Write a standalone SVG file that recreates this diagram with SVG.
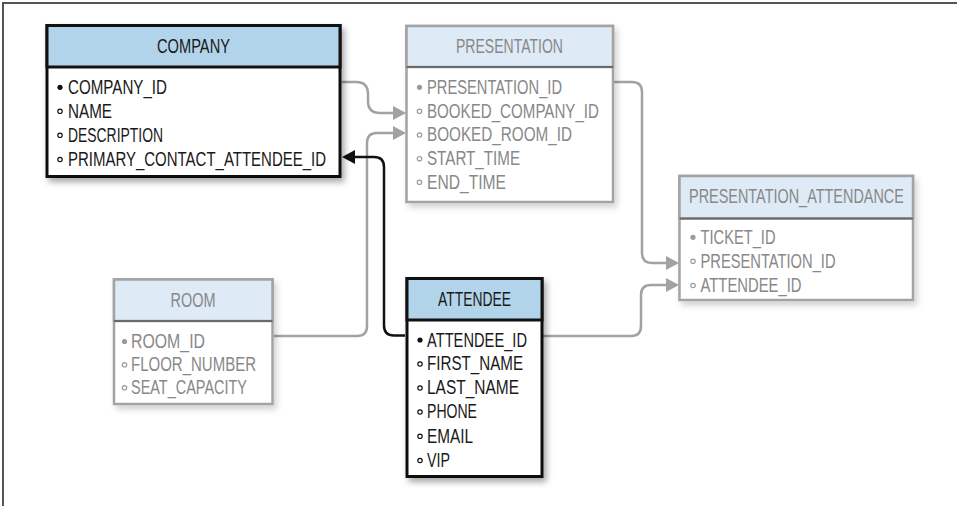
<svg xmlns="http://www.w3.org/2000/svg" width="957" height="506" viewBox="0 0 957 506">
<defs>
<filter id="sh" x="-10%" y="-10%" width="130%" height="130%">
<feDropShadow dx="3" dy="4" stdDeviation="3" flood-color="#000" flood-opacity="0.35"/>
</filter>
<filter id="shl" x="-10%" y="-10%" width="130%" height="130%">
<feDropShadow dx="3" dy="4" stdDeviation="3" flood-color="#000" flood-opacity="0.18"/>
</filter>
<marker id="ag" markerUnits="userSpaceOnUse" markerWidth="13" markerHeight="14" refX="0" refY="7" orient="auto">
<path d="M0,0 L13,7 L0,14 z" fill="#a2a2a2"/>
</marker>
<marker id="ab" markerUnits="userSpaceOnUse" markerWidth="13" markerHeight="14" refX="0" refY="7" orient="auto">
<path d="M0,0 L13,7 L0,14 z" fill="#111"/>
</marker>
</defs>
<style>
text{font-family:"Liberation Sans",Arial,sans-serif;font-size:20px}
.dk text{fill:#1a1a1a}
.lt text{fill:#888}
.dk .box{fill:#fff;stroke:#111;stroke-width:3;filter:url(#sh)}
.dk .hd{fill:#b2d4ea;stroke:#111;stroke-width:3}
.lt .box{fill:#fff;stroke:#a3a3a3;stroke-width:2.5;filter:url(#shl)}
.lt .hd{fill:#deebf6;stroke:#a3a3a3;stroke-width:2.5}
.dk .dv{stroke:#111;stroke-width:2.5}
.lt .dv{stroke:#6a6a6a;stroke-width:2}
.dk .pk{fill:#111}
.lt .pk{fill:#9a9a9a}
.dk .fk{fill:none;stroke:#111;stroke-width:1.2}
.lt .fk{fill:none;stroke:#9a9a9a;stroke-width:1.2}
.cg{fill:none;stroke:#a2a2a2;stroke-width:2.5;marker-end:url(#ag)}
.cb{fill:none;stroke:#111;stroke-width:2.5;marker-end:url(#ab)}
</style>
<rect width="957" height="506" fill="#fff"/>
<path d="M3,506 V3 H957" fill="none" stroke="#555" stroke-width="2"/>

<g id="connectors">
<path class="cg" d="M341.5,82 H356 Q368,82 368,94 V101 Q368,113 380,113 H393"/>
<path class="cg" d="M274,336 H357 Q367,336 367,326 V143 Q367,133 377,133 H393"/>
<path class="cg" d="M614,82 H632 Q642,82 642,92 V253 Q642,263 652,263 H666"/>
<path class="cg" d="M543,336 H631 Q641,336 641,326 V295 Q641,285 651,285 H666"/>
<path class="cb" d="M405,335.5 H394 Q384,335.5 384,325.5 V167 Q384,157 374,157 H355"/>
</g>

<g id="company" class="dk">
<rect class="box" x="47" y="25.5" width="293" height="151"/>
<rect class="hd" x="47" y="25.5" width="293" height="41.5"/>
<text x="157" y="52.7" textLength="73" lengthAdjust="spacingAndGlyphs">COMPANY</text>
<circle class="pk" cx="60" cy="87.3" r="2.6"/>
<text x="68" y="93.5" textLength="99" lengthAdjust="spacingAndGlyphs">COMPANY_ID</text>
<circle class="fk" cx="60" cy="111.3" r="2.2"/>
<text x="68" y="117.5" textLength="44" lengthAdjust="spacingAndGlyphs">NAME</text>
<circle class="fk" cx="60" cy="135.3" r="2.2"/>
<text x="68" y="141.5" textLength="95" lengthAdjust="spacingAndGlyphs">DESCRIPTION</text>
<circle class="fk" cx="60" cy="159.5" r="2.2"/>
<text x="68" y="165.7" textLength="258" lengthAdjust="spacingAndGlyphs">PRIMARY_CONTACT_ATTENDEE_ID</text>
</g>

<g id="presentation" class="lt">
<rect class="box" x="406.5" y="26" width="206.5" height="176"/>
<rect class="hd" x="406.5" y="26" width="206.5" height="41"/>
<line class="dv" x1="406.5" y1="67" x2="613" y2="67"/>
<text x="456" y="52.7" textLength="107" lengthAdjust="spacingAndGlyphs">PRESENTATION</text>
<circle class="pk" cx="419.5" cy="87.3" r="2.6"/>
<text x="427" y="93.5" textLength="135" lengthAdjust="spacingAndGlyphs">PRESENTATION_ID</text>
<circle class="fk" cx="419.5" cy="111.3" r="2.2"/>
<text x="427" y="117.5" textLength="172" lengthAdjust="spacingAndGlyphs">BOOKED_COMPANY_ID</text>
<circle class="fk" cx="419.5" cy="135" r="2.2"/>
<text x="427" y="141.2" textLength="145" lengthAdjust="spacingAndGlyphs">BOOKED_ROOM_ID</text>
<circle class="fk" cx="419.5" cy="158.7" r="2.2"/>
<text x="427" y="164.9" textLength="93" lengthAdjust="spacingAndGlyphs">START_TIME</text>
<circle class="fk" cx="419.5" cy="182.3" r="2.2"/>
<text x="427" y="188.5" textLength="79" lengthAdjust="spacingAndGlyphs">END_TIME</text>
</g>

<g id="presentation_attendance" class="lt">
<rect class="box" x="679.5" y="176" width="233.5" height="124"/>
<rect class="hd" x="679.5" y="176" width="233.5" height="42.5"/>
<line class="dv" x1="679.5" y1="218.5" x2="913" y2="218.5"/>
<text transform="translate(689 203.3) scale(0.726 1)" x="0" y="0" textLength="296" lengthAdjust="spacingAndGlyphs">PRESENTATION_ATTENDANCE</text>
<circle class="pk" cx="693" cy="237.3" r="2.6"/>
<text x="700.5" y="243.5" textLength="75" lengthAdjust="spacingAndGlyphs">TICKET_ID</text>
<circle class="fk" cx="693" cy="261.3" r="2.2"/>
<text x="700.5" y="267.5" textLength="135" lengthAdjust="spacingAndGlyphs">PRESENTATION_ID</text>
<circle class="fk" cx="693" cy="285.5" r="2.2"/>
<text x="700.5" y="291.7" textLength="101" lengthAdjust="spacingAndGlyphs">ATTENDEE_ID</text>
</g>

<g id="room" class="lt">
<rect class="box" x="114" y="279.5" width="158.5" height="124.5"/>
<rect class="hd" x="114" y="279.5" width="158.5" height="41.5"/>
<line class="dv" x1="114" y1="321" x2="272.5" y2="321"/>
<text x="170.5" y="306.7" textLength="45" lengthAdjust="spacingAndGlyphs">ROOM</text>
<circle class="pk" cx="124.5" cy="341.5" r="2.6"/>
<text x="131" y="348" textLength="74" lengthAdjust="spacingAndGlyphs">ROOM_ID</text>
<circle class="fk" cx="124.5" cy="364.8" r="2.2"/>
<text x="131" y="371" textLength="125" lengthAdjust="spacingAndGlyphs">FLOOR_NUMBER</text>
<circle class="fk" cx="124.5" cy="387.8" r="2.2"/>
<text x="131" y="394" textLength="116" lengthAdjust="spacingAndGlyphs">SEAT_CAPACITY</text>
</g>

<g id="attendee" class="dk">
<rect class="box" x="407" y="278.5" width="135" height="198"/>
<rect class="hd" x="407" y="278.5" width="135" height="41.5"/>
<text x="438" y="306" textLength="73" lengthAdjust="spacingAndGlyphs">ATTENDEE</text>
<circle class="pk" cx="420" cy="340" r="2.6"/>
<text x="427" y="346.5" textLength="100" lengthAdjust="spacingAndGlyphs">ATTENDEE_ID</text>
<circle class="fk" cx="420" cy="364" r="2.2"/>
<text x="427" y="370.3" textLength="96" lengthAdjust="spacingAndGlyphs">FIRST_NAME</text>
<circle class="fk" cx="420" cy="388" r="2.2"/>
<text x="427" y="394.3" textLength="92" lengthAdjust="spacingAndGlyphs">LAST_NAME</text>
<circle class="fk" cx="420" cy="412" r="2.2"/>
<text x="427" y="418.3" textLength="50" lengthAdjust="spacingAndGlyphs">PHONE</text>
<circle class="fk" cx="420" cy="436.3" r="2.2"/>
<text x="427" y="442.5" textLength="46" lengthAdjust="spacingAndGlyphs">EMAIL</text>
<circle class="fk" cx="420" cy="460.5" r="2.2"/>
<text x="427" y="466.7" textLength="23" lengthAdjust="spacingAndGlyphs">VIP</text>
</g>
</svg>
